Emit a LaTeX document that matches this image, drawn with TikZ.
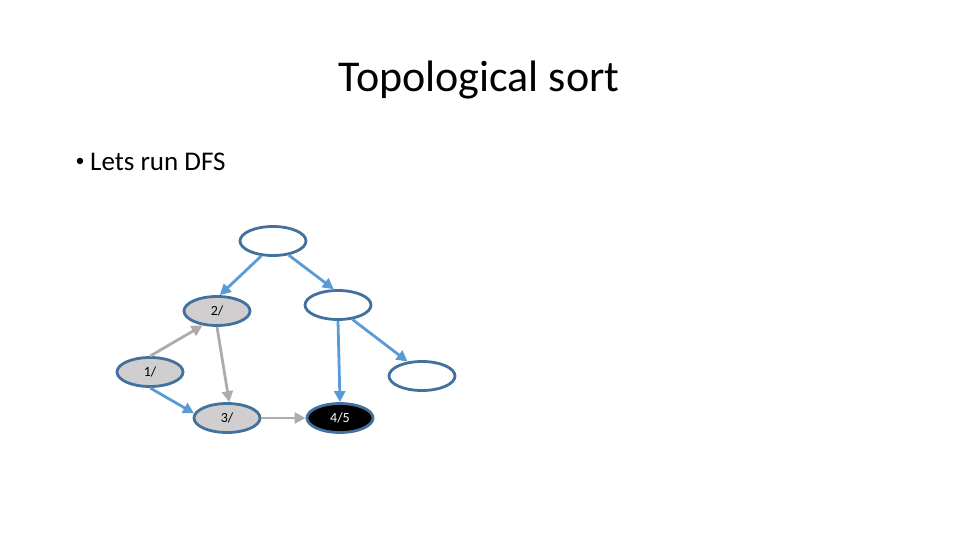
\documentclass[tikz,border=0pt]{standalone}
\usepackage{fontspec}
\setmainfont{Carlito}
\usepackage{xcolor}
\definecolor{cEdge}{HTML}{41719C}
\definecolor{cBlue}{HTML}{5B9BD5}
\definecolor{cGray}{HTML}{AFABAB}
\definecolor{cFill}{HTML}{D0CECE}
\usetikzlibrary{arrows.meta,shapes.geometric}
\tikzset{
  node-vert/.style={draw=cEdge,line width=2.8pt,ellipse,fill=white,
    minimum width=66pt,minimum height=29pt,inner sep=0pt,font=\fontsize{14}{16}\selectfont},
  node-seen/.style={fill=cFill},
  node-done/.style={fill=black,text=white},
  arrow-tree/.style={-{Triangle[length=11pt,width=11pt]},line width=2.8pt,draw=cBlue},
  arrow-other/.style={-{Triangle[length=11pt,width=11pt]},line width=2.8pt,draw=cGray},
}

\begin{document}
\begin{tikzpicture}[x=1pt,y=-1pt]
  \useasboundingbox (0,0) rectangle (960,540);
  % slide text
  \node[font=\fontsize{44}{52}\selectfont] (title) at (479,80) {Topological sort};
  \node[font=\fontsize{18}{20}\selectfont] (dot) at (80,162) {\textbullet};
  \node[anchor=west,font=\fontsize{27}{32}\selectfont,inner sep=0pt] (item) at (90,162) {Lets run DFS};
  % graph
  \node[node-vert] (top) at (273,241) {};
  \node[node-vert,node-seen] (two) at (217,311) {2/};
  \node[node-vert] (mid) at (338,305) {};
  \node[node-vert,node-seen] (one) at (150,372) {1/};
  \node[node-vert] (far) at (422,376) {};
  \node[node-vert,node-seen] (three) at (227,418) {3/};
  \node[node-vert,node-done] (four) at (340,418) {4/5};
  \draw[arrow-tree] (top.232) -- (two.80);
  \draw[arrow-tree] (top.318) -- (mid.105);
  \draw[arrow-tree] (mid.south) -- (four.north);
  \draw[arrow-tree] (mid.315) -- (far.135);
  \draw[arrow-other] (one.north) -- (two.225);
  \draw[arrow-other] (two.south) -- (three.82);
  \draw[arrow-tree] (one.south) -- (three.172);
  \draw[arrow-other] (three.east) -- (four.west);
\end{tikzpicture}
\end{document}
